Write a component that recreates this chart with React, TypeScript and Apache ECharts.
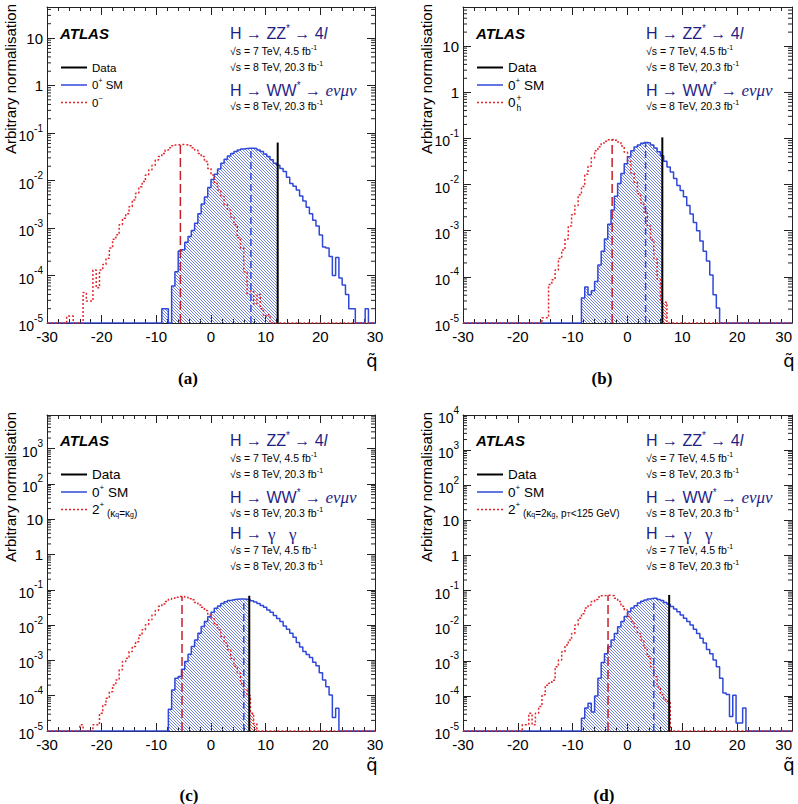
import { useEffect, useRef } from 'react';
import * as echarts from 'echarts';

// ---------- binning of the q~ histograms ----------
const BIN_WIDTH = 0.6;
const Q_MIN = -30;
const Q_MAX = 30;
const Y_FLOOR = 1e-5;

// ---------- panel (a): 0+ SM vs 0- ----------
const aSmFrom = -9.0;
const aSm = [2.0e-5, 2.0e-5, 1e-5, 6.0e-5, 1.2e-4, 3.3e-4, 3.5e-4, 5.0e-4, 6.6e-4, 8.9e-4,
  1.26e-3, 2.0e-3, 3.2e-3, 4.5e-3, 7.1e-3, 1.05e-2, 1.35e-2, 1.74e-2, 2.3e-2, 2.8e-2,
  3.3e-2, 3.7e-2, 4.1e-2, 4.4e-2, 4.6e-2, 4.7e-2, 4.8e-2, 4.8e-2, 4.7e-2, 4.4e-2,
  4.1e-2, 3.6e-2, 3.2e-2, 2.75e-2, 2.3e-2, 2.1e-2, 1.8e-2, 1.55e-2, 1.17e-2, 8.7e-3,
  7.6e-3, 6.3e-3, 4.7e-3, 3.7e-3, 2.75e-3, 2.0e-3, 1.45e-3, 1.1e-3, 7.1e-4, 4.0e-4,
  3.8e-4, 2.5e-4, 1.0e-4, 2.4e-4, 8.9e-5, 6.3e-5, 4.0e-5, 2.0e-5, 2.0e-5, 1e-5,
  1e-5, 1e-5, 2.0e-5];
const aAltFrom = -26.4;
const aAlt = [1.4e-5, 1.4e-5, 1e-5, 1e-5, 1e-5, 4.4e-5, 2.9e-5, 2.9e-5, 1.3e-4, 5.5e-5,
  1.3e-4, 1.7e-4, 2.3e-4, 3.8e-4, 5.8e-4, 7.2e-4, 1.17e-3, 1.6e-3, 2.0e-3, 2.8e-3,
  3.9e-3, 5.4e-3, 7.4e-3, 9.5e-3, 1.3e-2, 1.66e-2, 2.1e-2, 2.7e-2, 3.2e-2, 3.7e-2,
  4.4e-2, 4.9e-2, 5.4e-2, 5.6e-2, 5.75e-2, 5.75e-2, 5.6e-2, 5.4e-2, 4.9e-2, 4.4e-2,
  3.7e-2, 3.2e-2, 2.5e-2, 1.8e-2, 1.3e-2, 8.7e-3, 6.3e-3, 4.6e-3, 3.1e-3, 2.4e-3,
  1.7e-3, 1.17e-3, 6.2e-4, 3.8e-4, 1.2e-4, 4.0e-5, 4.7e-5, 2.5e-5, 4.0e-5, 2.0e-5,
  1.4e-5, 1.5e-5];
const aData = 12.2;
const aDataTop = 0.063;
const aSmMedian = 7.3;
const aAltMedian = -5.6;
const aYMax = 45;

// ---------- panel (b): 0+ SM vs 0h+ ----------
const bSmFrom = -8.4;
const bSm = [3.5e-5, 6.0e-5, 4.1e-5, 5.0e-5, 7.9e-5, 1.8e-4, 3.6e-4, 6.6e-4, 1.38e-3, 2.8e-3,
  5.6e-3, 1.05e-2, 1.74e-2, 2.8e-2, 4.0e-2, 5.4e-2, 6.5e-2, 7.2e-2, 7.8e-2, 8.1e-2,
  7.9e-2, 7.2e-2, 6.2e-2, 5.1e-2, 4.2e-2, 3.2e-2, 2.4e-2, 1.86e-2, 1.35e-2, 9.5e-3,
  7.4e-3, 5.4e-3, 3.5e-3, 2.3e-3, 1.5e-3, 1.0e-3, 6.0e-4, 3.6e-4, 2.2e-4, 1.1e-4,
  4.1e-5, 2.1e-5];
const bAltFrom = -15.6;
const bAlt = [1.3e-5, 1.3e-5, 6.8e-5, 8.7e-5, 1.4e-4, 2.5e-4, 3.8e-4, 6.6e-4, 1.26e-3, 2.2e-3,
  3.5e-3, 6.0e-3, 9.1e-3, 1.66e-2, 2.5e-2, 3.8e-2, 5.4e-2, 6.6e-2, 7.9e-2, 8.7e-2,
  9.3e-2, 9.5e-2, 9.1e-2, 8.3e-2, 6.8e-2, 5.0e-2, 3.2e-2, 1.78e-2, 1.12e-2, 6.3e-3,
  4.0e-3, 2.5e-3, 1.26e-3, 6.3e-4, 2.5e-4, 8.9e-5, 2.8e-5, 2.8e-5];
const bData = 6.35;
const bDataTop = 0.105;
const bSmMedian = 3.3;
const bAltMedian = -2.8;
const bYMax = 70;

// ---------- panel (c): 0+ SM vs 2+ (kq=kg) ----------
const cSmFrom = -7.8;
const cSm = [4.1e-5, 1.45e-4, 3.1e-4, 3.5e-4, 5.6e-4, 9.3e-4, 1.5e-3, 2.5e-3, 3.8e-3, 5.9e-3,
  9.1e-3, 1.26e-2, 1.74e-2, 2.3e-2, 3.0e-2, 3.5e-2, 4.1e-2, 4.6e-2, 5.0e-2, 5.2e-2,
  5.4e-2, 5.5e-2, 5.5e-2, 5.4e-2, 5.2e-2, 4.9e-2, 4.5e-2, 4.1e-2, 3.6e-2, 3.2e-2,
  2.7e-2, 2.3e-2, 1.86e-2, 1.55e-2, 1.26e-2, 9.5e-3, 7.6e-3, 5.9e-3, 4.5e-3, 3.2e-3,
  2.4e-3, 1.8e-3, 1.48e-3, 1.2e-3, 8.9e-4, 7.1e-4, 4.5e-4, 2.8e-4, 1.8e-4, 1.05e-4,
  2.4e-5, 4.4e-5];
const cAltFrom = -24.0;
const cAlt = [1.5e-5, 1e-5, 1e-5, 1e-5, 1.5e-5, 1.5e-5, 3.2e-5, 5.5e-5, 8.5e-5, 1.3e-4,
  2.0e-4, 2.8e-4, 5.4e-4, 9.3e-4, 1.15e-3, 1.78e-3, 2.5e-3, 3.4e-3, 5.2e-3, 7.4e-3,
  1.02e-2, 1.41e-2, 1.95e-2, 2.6e-2, 3.4e-2, 4.0e-2, 4.7e-2, 5.4e-2, 5.75e-2, 6.2e-2,
  6.5e-2, 6.5e-2, 6.2e-2, 5.6e-2, 5.2e-2, 4.4e-2, 3.7e-2, 3.2e-2, 2.6e-2, 1.95e-2,
  1.58e-2, 1.02e-2, 7.4e-3, 4.8e-3, 3.1e-3, 2.0e-3, 1.15e-3, 6.8e-4, 4.4e-4, 2.2e-4,
  1.45e-4, 1.0e-4, 3.2e-5, 1.6e-5];
const cData = 7.0;
const cDataTop = 0.068;
const cSmMedian = 6.0;
const cAltMedian = -5.3;
const cYMax = 9000;

// ---------- panel (d): 0+ SM vs 2+ (kq=2kg, pT<125 GeV) ----------
const dSmFrom = -8.4;
const dSm = [2.3e-5, 4.5e-5, 6.2e-5, 3.5e-5, 1.0e-4, 3.2e-4, 8.9e-4, 1.58e-3, 2.5e-3, 3.9e-3,
  6.0e-3, 9.3e-3, 1.32e-2, 1.82e-2, 2.5e-2, 3.2e-2, 3.7e-2, 4.4e-2, 5.0e-2, 5.4e-2,
  5.75e-2, 6.0e-2, 6.0e-2, 5.6e-2, 5.2e-2, 4.6e-2, 4.1e-2, 3.5e-2, 3.0e-2, 2.5e-2,
  2.0e-2, 1.62e-2, 1.32e-2, 1.05e-2, 7.9e-3, 6.0e-3, 4.4e-3, 3.2e-3, 2.1e-3, 1.58e-3,
  1.05e-3, 6.8e-4, 3.2e-4, 1.2e-4, 1.1e-4, 2.6e-5, 1.05e-4, 1.7e-5, 1.7e-5, 4.5e-5];
const dAltFrom = -19.2;
const dAlt = [1.5e-5, 1.5e-5, 3.2e-5, 1.5e-5, 3.2e-5, 5.0e-5, 1.07e-4, 2.0e-4, 2.3e-4, 2.8e-4,
  6.8e-4, 1.05e-3, 1.8e-3, 2.8e-3, 3.9e-3, 6.0e-3, 1.05e-2, 1.62e-2, 2.2e-2, 3.2e-2,
  3.9e-2, 4.9e-2, 5.6e-2, 6.5e-2, 7.1e-2, 7.4e-2, 7.4e-2, 7.1e-2, 6.0e-2, 4.9e-2,
  3.6e-2, 2.8e-2, 1.82e-2, 1.32e-2, 9.3e-3, 6.0e-3, 3.9e-3, 2.3e-3, 1.32e-3, 6.8e-4,
  3.5e-4, 1.8e-4, 1.07e-4, 7.8e-5, 6.9e-5];
const dData = 7.6;
const dDataTop = 0.075;
const dSmMedian = 4.8;
const dAltMedian = -3.55;
const dYMax = 10000;

// ---------- styles ----------
const SANS = '"Liberation Sans", Arial, Helvetica, sans-serif';
const SERIF = '"Liberation Serif", "Times New Roman", serif';
const NAVY = '#1f1f88';
const BLUE = '#3048d8';
const RED = '#e3262b';
const RED_DARK = '#c41f2c';
const AXIS = '#222';

const NBINS = Math.round((Q_MAX - Q_MIN) / BIN_WIDTH);
const edge = (k: number) => Q_MIN + k * BIN_WIDTH;
const binIndex = (q: number) => Math.min(NBINS - 1, Math.max(0, Math.floor((q - Q_MIN) / BIN_WIDTH + 1e-9)));

function fillBins(from: number, vals: number[]): number[] {
  const start = Math.round((from - Q_MIN) / BIN_WIDTH);
  const out: number[] = new Array(NBINS).fill(Y_FLOOR);
  vals.forEach((v, i) => {
    if (start + i < NBINS) out[start + i] = Math.max(v, Y_FLOOR);
  });
  return out;
}
function stepPoints(bins: number[]) {
  const pts: number[][] = bins.map((v, k) => [edge(k), v]);
  pts.push([Q_MAX, bins[NBINS - 1]]);
  return pts;
}
function leftPart(bins: number[], from: number, to: number) {
  const pts: number[][] = [];
  for (let k = binIndex(from); k < NBINS && edge(k) < to - 1e-9; k++) pts.push([edge(k), bins[k]]);
  pts.push([to, bins[binIndex(to - 1e-6)]]);
  return pts;
}
function rightPart(bins: number[], from: number, to: number) {
  const pts: number[][] = [[from, bins[binIndex(from)]]];
  let k = binIndex(from) + 1;
  for (; k < NBINS && edge(k) < to - 1e-9; k++) pts.push([edge(k), bins[k]]);
  pts.push([Math.min(to, Q_MAX), bins[k - 1]]);
  return pts;
}

function makeHatch(color: string) {
  const c = document.createElement('canvas');
  c.width = 6;
  c.height = 6;
  const ctx = c.getContext('2d') as CanvasRenderingContext2D;
  ctx.strokeStyle = color;
  ctx.lineWidth = 0.8;
  ctx.beginPath();
  ctx.moveTo(-1, 2); ctx.lineTo(4, 7);
  ctx.moveTo(-1, -1); ctx.lineTo(7, 7);
  ctx.moveTo(2, -1); ctx.lineTo(7, 4);
  ctx.stroke();
  return { image: c.toDataURL(), repeat: 'repeat', imageWidth: 6, imageHeight: 6 };
}

type Panel = {
  smFrom: number; sm: number[]; altFrom: number; alt: number[];
  data: number; dataTop: number; smMed: number; altMed: number; yMax: number;
  left: number; top: number; width: number; height: number;
  ox: number; oy: number; letter: string; letterX: number; letterY: number; qY: number;
  legendFont: number; altKind: 'a' | 'b' | 'c' | 'd'; gamma: boolean; alignMax: boolean;
};

const panels: Panel[] = [
  { smFrom: aSmFrom, sm: aSm, altFrom: aAltFrom, alt: aAlt, data: aData, dataTop: aDataTop,
    smMed: aSmMedian, altMed: aAltMedian, yMax: aYMax,
    left: 47, top: 7, width: 328, height: 316, ox: 0, oy: 0,
    letter: '(a)', letterX: 188, letterY: 378, qY: 360, legendFont: 11.5, altKind: 'a', gamma: false, alignMax: false },
  { smFrom: bSmFrom, sm: bSm, altFrom: bAltFrom, alt: bAlt, data: bData, dataTop: bDataTop,
    smMed: bSmMedian, altMed: bAltMedian, yMax: bYMax,
    left: 463, top: 7, width: 329, height: 316, ox: 416, oy: 0,
    letter: '(b)', letterX: 602, letterY: 378, qY: 360, legendFont: 13.5, altKind: 'b', gamma: false, alignMax: true },
  { smFrom: cSmFrom, sm: cSm, altFrom: cAltFrom, alt: cAlt, data: cData, dataTop: cDataTop,
    smMed: cSmMedian, altMed: cAltMedian, yMax: cYMax,
    left: 47, top: 415, width: 328, height: 316, ox: 0, oy: 407,
    letter: '(c)', letterX: 189, letterY: 795, qY: 764, legendFont: 13.5, altKind: 'c', gamma: true, alignMax: false },
  { smFrom: dSmFrom, sm: dSm, altFrom: dAltFrom, alt: dAlt, data: dData, dataTop: dDataTop,
    smMed: dSmMedian, altMed: dAltMedian, yMax: dYMax,
    left: 463, top: 415, width: 329, height: 316, ox: 416, oy: 407,
    letter: '(d)', letterX: 604, letterY: 795, qY: 764, legendFont: 13.5, altKind: 'd', gamma: true, alignMax: true },
];

function logMinors(yMax: number) {
  const out: number[] = [];
  for (let n = -5; n <= 4; n++) {
    for (let m = 2; m <= 9; m++) {
      const v = m * Math.pow(10, n);
      if (v < yMax) out.push(v);
    }
  }
  return out;
}

function yLabel(v: number) {
  const e = Math.log10(v);
  const r = Math.round(e);
  if (Math.abs(e - r) > 1e-6) return '';
  if (r === 0) return '{p|1}';
  if (r === 1) return '{p|10}';
  return `{b|10}{s|${r}}`;
}

function legendRich(L: number) {
  return {
    n: { fontSize: L, fontFamily: SANS, fill: '#000', lineHeight: L + 4 },
    sup: { fontSize: Math.round(L * 0.62), fontFamily: SANS, fill: '#000', verticalAlign: 'top', lineHeight: Math.round(L * 0.62) },
    sm: { fontSize: Math.round(L * 0.74), fontFamily: SANS, fill: '#000', verticalAlign: 'bottom', lineHeight: L * 0.74 + 2 },
    sub: { fontSize: Math.round(L * 0.55), fontFamily: SANS, fill: '#000', verticalAlign: 'bottom', lineHeight: 6 },
  };
}

const headRich = {
  hd: { fontSize: 16, fontFamily: SANS, fill: NAVY, lineHeight: 20 },
  hs: { fontSize: 10, fontFamily: SANS, fill: NAVY, verticalAlign: 'top', lineHeight: 10 },
  hi: { fontSize: 16, fontFamily: SANS, fontStyle: 'italic', fill: NAVY, lineHeight: 20 },
  hg: { fontSize: 17, fontFamily: SERIF, fontStyle: 'italic', fill: NAVY, lineHeight: 20 },
};
const lumiRich = {
  r: { fontSize: 10.5, fontFamily: SANS, fill: '#000', lineHeight: 14 },
  s: { fontSize: 7, fontFamily: SANS, fill: '#000', verticalAlign: 'top', lineHeight: 7 },
};

function panelGraphics(p: Panel) {
  const X = (x: number) => p.ox + x;
  const Y = (y: number) => p.oy + y;
  const els: any[] = [];
  const txt = (x: number, y: number, style: any) => els.push({ type: 'text', x, y, silent: true, style: { align: 'left', verticalAlign: 'middle', ...style } });

  // ATLAS label
  txt(X(60), Y(33), { text: 'ATLAS', fontSize: 15, fontWeight: 'bold', fontStyle: 'italic', fontFamily: SANS, fill: '#000' });

  // legend
  const rows = [67.5, 85, 102.5];
  const L = p.legendFont;
  const lr = legendRich(L);
  els.push({ type: 'line', silent: true, shape: { x1: X(61), y1: Y(rows[0]), x2: X(87), y2: Y(rows[0]) }, style: { stroke: '#000', lineWidth: 2 } });
  els.push({ type: 'line', silent: true, shape: { x1: X(61), y1: Y(rows[1]), x2: X(87), y2: Y(rows[1]) }, style: { stroke: BLUE, lineWidth: 1.5 } });
  els.push({ type: 'line', silent: true, shape: { x1: X(61), y1: Y(rows[2]), x2: X(87), y2: Y(rows[2]) }, style: { stroke: RED, lineWidth: 1.5, lineDash: [2, 2] } });
  txt(X(92), Y(rows[0]), { text: '{n|Data}', rich: lr });
  txt(X(92), Y(rows[1]), { text: '{n|0}{sup|+}{n| SM}', rich: lr });
  if (p.altKind === 'a') {
    txt(X(92), Y(rows[2]), { text: '{n|0}{sup|\u2212}', rich: lr });
  } else if (p.altKind === 'b') {
    txt(X(92), Y(rows[2]), { text: '0', fontSize: L, fontFamily: SANS, fill: '#000' });
    txt(X(100.5), Y(rows[2] - 5), { text: '+', fontSize: 8.5, fontFamily: SANS, fill: '#000' });
    txt(X(100.5), Y(rows[2] + 5), { text: 'h', fontSize: 8.5, fontFamily: SANS, fill: '#000' });
  } else if (p.altKind === 'c') {
    txt(X(92), Y(rows[2]), { text: '{n|2}{sup|+}{sm| (\u03ba}{sub|q}{sm|=\u03ba}{sub|g}{sm|)}', rich: lr });
  } else {
    txt(X(92), Y(rows[2]), { text: '{n|2}{sup|+}{sm| (\u03ba}{sub|q}{sm|=2\u03ba}{sub|g}{sm|, p}{sub|T}{sm|<125 GeV)}', rich: lr });
  }

  // channel block
  txt(X(230), Y(33), { text: '{hd|H \u2192 ZZ}{hs|*}{hd| \u2192 4}{hi|l}', rich: headRich });
  txt(X(230), Y(51), { text: '{r|\u221as = 7 TeV, 4.5 fb}{s|-1}', rich: lumiRich });
  txt(X(230), Y(67), { text: '{r|\u221as = 8 TeV, 20.3 fb}{s|-1}', rich: lumiRich });
  txt(X(230), Y(90), { text: '{hd|H \u2192 WW}{hs|*}{hd| \u2192 }{hg|e\u03bd\u03bc\u03bd}', rich: headRich });
  txt(X(230), Y(106), { text: '{r|\u221as = 8 TeV, 20.3 fb}{s|-1}', rich: lumiRich });
  if (p.gamma) {
    txt(X(230), Y(126), { text: '{hd|H \u2192}', rich: headRich });
    txt(X(268), Y(127), { text: '\u03b3', fontSize: 17, fontFamily: SERIF, fill: NAVY });
    txt(X(289), Y(127), { text: '\u03b3', fontSize: 17, fontFamily: SERIF, fill: NAVY });
    txt(X(230), Y(143), { text: '{r|\u221as = 7 TeV, 4.5 fb}{s|-1}', rich: lumiRich });
    txt(X(230), Y(159), { text: '{r|\u221as = 8 TeV, 20.3 fb}{s|-1}', rich: lumiRich });
  }

  // y-axis title
  els.push({ type: 'text', x: X(10), y: p.top - 3, rotation: Math.PI / 2, silent: true,
    style: { text: 'Arbitrary normalisation', fontSize: 15, fontFamily: SANS, fill: '#000', align: 'right', verticalAlign: 'middle' } });
  // x-axis title: q with tilde (combining character, single text)
  els.push({ type: 'text', x: p.left + p.width - 3, y: p.qY, silent: true,
    style: { text: 'q\u0303', fontSize: 18, fontFamily: '"DejaVu Sans", ' + SANS, fill: '#000', align: 'center', verticalAlign: 'middle' } });
  // panel letter
  els.push({ type: 'text', x: p.letterX, y: p.letterY, silent: true,
    style: { text: p.letter, fontSize: 17, fontWeight: 'bold', fontFamily: SERIF, fill: '#000', align: 'center', verticalAlign: 'middle' } });
  return els;
}

export default function App() {
  const ref = useRef<HTMLDivElement>(null);
  useEffect(() => {
    if (!ref.current) return;
    const chart = echarts.init(ref.current, undefined, { renderer: 'svg' });
    const blueHatch = makeHatch('#4d62d0');
    const redHatch = makeHatch('#e0282c');

    const grids: any[] = [];
    const xAxes: any[] = [];
    const yAxes: any[] = [];
    const series: any[] = [];
    let graphics: any[] = [];

    panels.forEach((p, i) => {
      grids.push({ left: p.left, top: p.top, width: p.width, height: p.height, containLabel: false, outerBoundsMode: 'none' });
      const xBase = {
        type: 'value', gridIndex: i, min: Q_MIN, max: Q_MAX, interval: 10,
        axisLine: { show: true, onZero: false, lineStyle: { color: AXIS, width: 1 } },
        axisTick: { show: true, inside: true, length: 8, lineStyle: { color: AXIS } },
        minorTick: { show: true, splitNumber: 5, length: 4, lineStyle: { color: AXIS } },
        splitLine: { show: false }, minorSplitLine: { show: false },
      };
      xAxes.push({ ...xBase, position: 'bottom',
        axisLabel: { show: true, fontSize: 15, fontFamily: SANS, color: '#000', margin: 6,
          alignMaxLabel: p.alignMax ? 'right' : undefined } });
      xAxes.push({ ...xBase, position: 'top', axisLabel: { show: false } });
      const yBase = {
        type: 'log', logBase: 10, gridIndex: i, min: Y_FLOOR, max: p.yMax, interval: 1,
        axisLine: { show: true, onZero: false, lineStyle: { color: AXIS, width: 1 } },
        axisTick: { show: true, inside: true, length: 8, lineStyle: { color: AXIS } },
        splitLine: { show: false },
      };
      yAxes.push({ ...yBase, position: 'left',
        axisLabel: { show: true, margin: 4, formatter: yLabel,
          rich: {
            p: { fontSize: 15, fontFamily: SANS, color: '#000' },
            b: { fontSize: 14, fontFamily: SANS, color: '#000', lineHeight: 20, verticalAlign: 'bottom' },
            s: { fontSize: 10, fontFamily: SANS, color: '#000', lineHeight: 11, verticalAlign: 'top' },
          } } });
      yAxes.push({ ...yBase, position: 'right', axisLabel: { show: false } });

      const xi = 2 * i;
      const yi = 2 * i;
      const smBins = fillBins(p.smFrom, p.sm);
      const altBins = fillBins(p.altFrom, p.alt);
      const smStart = p.smFrom;
      const altEnd = p.altFrom + p.alt.length * BIN_WIDTH;
      const common = { type: 'line', xAxisIndex: xi, yAxisIndex: yi, symbol: 'none', showSymbol: false, silent: true, animation: false };

      series.push({ ...common, name: `sm-hatch-${i}`, step: 'end', z: 2,
        data: leftPart(smBins, smStart, p.data),
        lineStyle: { width: 0, opacity: 0 },
        areaStyle: { color: blueHatch, opacity: 1, origin: Y_FLOOR } });
      series.push({ ...common, name: `alt-hatch-${i}`, step: 'end', z: 2,
        data: rightPart(altBins, p.data, Math.max(altEnd, p.data + BIN_WIDTH)),
        lineStyle: { width: 0, opacity: 0 },
        areaStyle: { color: redHatch, opacity: 1, origin: Y_FLOOR } });
      series.push({ ...common, name: `sm-${i}`, step: 'end', z: 3,
        data: stepPoints(smBins), lineStyle: { color: BLUE, width: 1.5 } });
      series.push({ ...common, name: `alt-${i}`, step: 'end', z: 3,
        data: stepPoints(altBins), lineStyle: { color: RED, width: 1.5, type: [2, 2] } });
      series.push({ ...common, name: `sm-med-${i}`, z: 4,
        data: [[p.smMed, Y_FLOOR], [p.smMed, smBins[binIndex(p.smMed)]]],
        lineStyle: { color: BLUE, width: 1.5, type: [7, 4] } });
      series.push({ ...common, name: `alt-med-${i}`, z: 4,
        data: [[p.altMed, Y_FLOOR], [p.altMed, altBins[binIndex(p.altMed)]]],
        lineStyle: { color: RED_DARK, width: 1.5, type: [9, 4] } });
      series.push({ ...common, name: `data-${i}`, z: 5,
        data: [[p.data, Y_FLOOR], [p.data, p.dataTop]],
        lineStyle: { color: '#000', width: 2 } });
      series.push({
        type: 'custom', name: `minor-${i}`, xAxisIndex: xi, yAxisIndex: yi, silent: true, clip: false, z: 1,
        data: logMinors(p.yMax).map((v) => [0, v]),
        renderItem: (_params: any, api: any) => {
          const v = api.value(1);
          const l = api.coord([Q_MIN, v]);
          const r = api.coord([Q_MAX, v]);
          return {
            type: 'group',
            children: [
              { type: 'line', shape: { x1: l[0], y1: l[1], x2: l[0] + 4, y2: l[1] }, style: { stroke: AXIS, lineWidth: 1 } },
              { type: 'line', shape: { x1: r[0], y1: r[1], x2: r[0] - 4, y2: r[1] }, style: { stroke: AXIS, lineWidth: 1 } },
            ],
          };
        },
      });
      graphics = graphics.concat(panelGraphics(p));
    });

    chart.setOption({
      animation: false,
      backgroundColor: '#fff',
      grid: grids,
      xAxis: xAxes,
      yAxis: yAxes,
      series,
      graphic: { elements: graphics },
    });
    return () => chart.dispose();
  }, []);
  return <div ref={ref} style={{ position: 'absolute', left: 0, top: 0, width: 798, height: 804 }} />;
}
